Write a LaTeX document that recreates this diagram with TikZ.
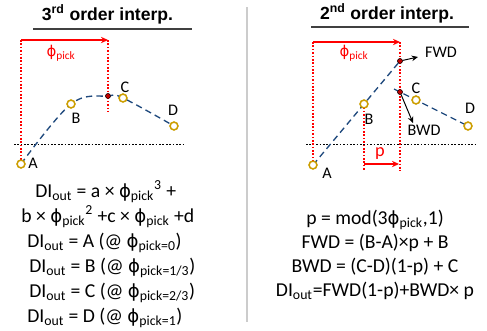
\documentclass[tikz,border=0pt]{standalone}
\usepackage{fontspec}
\setmainfont{Carlito}
\newfontfamily\headfont{Liberation Sans}
\newfontfamily\phifont[Scale=0.92]{DejaVu Sans}
\usetikzlibrary{arrows.meta}
\definecolor{lineblue}{RGB}{31,73,125}
\definecolor{knotgold}{RGB}{204,158,0}
\definecolor{dotred}{RGB}{192,0,0}
\newcommand{\DIo}{DI\textsubscript{out}}
\newcommand{\phig}{{\phifont ϕ}}
\newcommand{\phip}{\phig\textsubscript{pick}}

\begin{document}
\begin{tikzpicture}[
    x=0.025cm, y=-0.025cm,
    >=Stealth,
    font=\fontsize{14}{16}\selectfont,
    titletext/.style={font=\headfont\bfseries\fontsize{12.5}{14}\selectfont, anchor=base, inner sep=0pt},
    eqn/.style={anchor=base west, inner sep=0pt},
    eqnc/.style={anchor=base, inner sep=0pt},
    ptlabel/.style={font=\fontsize{11.5}{13}\selectfont, inner sep=0pt},
    redlabel/.style={font=\fontsize{11.5}{13}\selectfont, text=red, inner sep=0pt},
    knot/.style={circle, draw=knotgold, line width=1pt, fill=white, minimum size=5.5pt, inner sep=0pt},
    pickdot/.style={circle, draw=black, fill=dotred, line width=0.3pt, minimum size=3.5pt, inner sep=0pt},
    interpline/.style={draw=lineblue, line width=0.95pt, dash pattern=on 4.5pt off 3pt},
    guide/.style={draw=red, line width=0.8pt, dash pattern=on 1.2pt off 1.2pt},
    levelline/.style={draw=black, line width=0.7pt, dash pattern=on 1.2pt off 1.2pt},
    redarr/.style={-{Stealth[length=5pt,width=4.5pt]}, draw=red, line width=0.9pt},
    blkarr/.style={-{Stealth[length=4.5pt,width=4pt]}, draw=black, line width=0.7pt},
    titlerule/.style={draw=black!75, line width=1pt}
]
\useasboundingbox (0,0) rectangle (487,330);

% left panel: 3rd order
\node[titletext] (ttl3) at (107.5,20) {3\textsuperscript{rd} order interp.};
\coordinate (rl3a) at (33,29);
\coordinate (rl3b) at (192,29);
\draw[titlerule] (rl3a) -- (rl3b);

\coordinate (lv3a) at (14,144);
\coordinate (lv3b) at (185,144);
\draw[levelline] (lv3a) -- (lv3b);

\node[knot] (kA) at (21,164) {};
\node[knot] (kB) at (71,104) {};
\node[knot] (kC) at (123,98) {};
\node[knot] (kD) at (174,126) {};
\node[pickdot] (pk3) at (108,96) {};

\coordinate (g3a) at (21,40);
\coordinate (g3b) at (108,40);
\coordinate (g3c) at (108,112);
\draw[guide] (g3a) -- (kA.center);
\draw[guide] (g3b) -- (g3c);
\draw[redarr] (g3a) -- (g3b);
\node[redlabel] (phi3) at (61,53) {\phip};

\draw[interpline] plot[smooth, tension=0.6] coordinates {(kA.center) (kB.center) (pk3.center) (kC.center) (kD.center)};
\node[knot] at (kA) {};
\node[knot] at (kB) {};
\node[knot] at (kC) {};
\node[knot] at (kD) {};
\node[pickdot] at (pk3) {};

\node[ptlabel] (lA) at (33,163) {A};
\node[ptlabel] (lB) at (76,118.5) {B};
\node[ptlabel] (lC) at (125,87) {C};
\node[ptlabel] (lD) at (173,110) {D};

\node[eqn] (e1) at (35,197) {\DIo{} = a × \phip\textsuperscript{3} +};
\node[eqn] (e2) at (21,222) {b × \phip\textsuperscript{2} +c × \phip{} +d};
\node[eqn] (e3) at (27,247) {\DIo{} = A (@ \phig\textsubscript{pick=0})};
\node[eqn] (e4) at (29,272) {\DIo{} = B (@ \phig\textsubscript{pick=1/3})};
\node[eqn] (e5) at (29,297) {\DIo{} = C (@ \phig\textsubscript{pick=2/3})};
\node[eqn] (e6) at (27,322) {\DIo{} = D (@ \phig\textsubscript{pick=1})};

% separator
\coordinate (sepT) at (247,7);
\coordinate (sepB) at (247,322);
\draw[black!20, line width=2pt] (sepT) -- (sepB);

% right panel: 2nd order
\node[titletext] (ttl2) at (387,19) {2\textsuperscript{nd} order interp.};
\coordinate (rl2a) at (311,27);
\coordinate (rl2b) at (469,27);
\draw[titlerule] (rl2a) -- (rl2b);

\coordinate (lv2a) at (306,144);
\coordinate (lv2b) at (478,144);
\draw[levelline] (lv2a) -- (lv2b);

\node[knot] (mA) at (313,165) {};
\node[knot] (mB) at (364,104) {};
\node[knot] (mC) at (416,100) {};
\node[knot] (mD) at (468,126) {};
\node[pickdot] (fwd) at (400,61) {};
\node[pickdot] (bwd) at (400,92) {};
\coordinate (bwdstart) at (394,89);

\coordinate (g2a) at (313,42);
\coordinate (g2b) at (400,42);
\coordinate (g2c) at (400,171);
\coordinate (g2d) at (364,171);
\coordinate (pa) at (364,164);
\coordinate (pb) at (399,164);
\draw[guide] (g2a) -- (mA.center);
\draw[guide] (g2b) -- (g2c);
\draw[guide] (mB.center) -- (g2d);
\draw[redarr] (g2a) -- (g2b);
\draw[redarr] (pa) -- (pb);
\node[redlabel] (phi2) at (354,53) {\phip};
\node[redlabel, font=\fontsize{13}{15}\selectfont] (plab) at (380,154) {p};

\draw[interpline] (mA.center) -- (fwd.center);
\draw[interpline] (bwdstart) -- (mD.center);
\node[knot] at (mA) {};
\node[knot] at (mB) {};
\node[knot] at (mC) {};
\node[knot] at (mD) {};
\node[pickdot] at (fwd) {};
\node[pickdot] at (bwd) {};

\coordinate (fwdtip) at (418,57);
\coordinate (bwdtip) at (413,123);
\draw[blkarr] (fwd) -- (fwdtip);
\draw[blkarr] (bwd) -- (bwdtip);

\node[ptlabel] (lfwd) at (441,52) {FWD};
\node[ptlabel] (lbwd) at (424,130.5) {BWD};
\node[ptlabel] (mlA) at (327,173) {A};
\node[ptlabel] (mlB) at (369,119) {B};
\node[ptlabel] (mlC) at (416,88) {C};
\node[ptlabel] (mlD) at (470,108) {D};

\node[eqnc] (f1) at (375,224) {p = mod(3\phip,1)};
\node[eqnc] (f2) at (375,248) {FWD = (B-A)×p + B};
\node[eqnc] (f3) at (375,272) {BWD = (C-D)(1-p) + C};
\node[eqnc] (f4) at (375,296) {\DIo=FWD(1-p)+BWD× p};
\end{tikzpicture}
\end{document}
